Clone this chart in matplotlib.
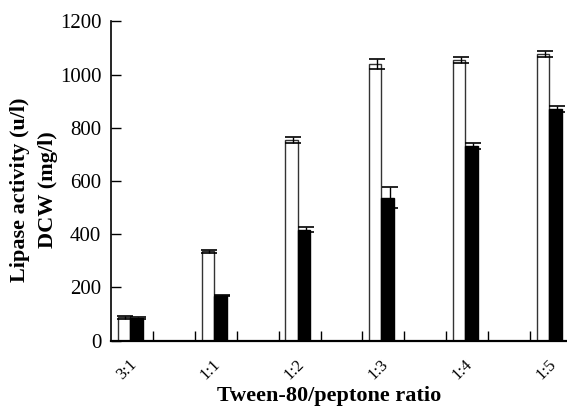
import matplotlib
matplotlib.use("Agg")
import matplotlib.pyplot as plt
import numpy as np
from matplotlib.ticker import FixedLocator

categories = ["3:1", "1:1", "1:2", "1:3", "1:4", "1:5"]
lipase = [88, 336, 755, 1040, 1055, 1078]
lipase_err = [5, 6, 10, 20, 12, 11]
dcw = [84, 169, 418, 538, 733, 870]
dcw_err = [4, 2, 10, 40, 12, 11]

plt.rcParams['font.family'] = ['Liberation Serif', 'DejaVu Serif']

fig = plt.figure(figsize=(5.67, 4.08), dpi=100)
ax = fig.add_axes([111/567, 1-340.7/408, 1-111/567, (340.7-21.5)/408])

pos = np.arange(len(categories)) * 2.0 + 0.45
w = 0.29
ax.bar(pos - w/2, lipase, width=w, color='white', edgecolor='#333333', linewidth=1.0, zorder=2)
ax.bar(pos + w/2 + 0.01, dcw, width=w + 0.02, color='black', edgecolor='black', linewidth=1.0, zorder=2)
ekw = dict(fmt='none', ecolor='black', elinewidth=1.0, capsize=5.5, capthick=1.2, zorder=3)
ax.errorbar(pos - w/2 + 0.04, lipase, yerr=lipase_err, **ekw)
ax.errorbar(pos + w/2 + 0.05, dcw, yerr=dcw_err, **ekw)

ax.set_xlim(0, 10.88)
ax.set_ylim(0, 1200)
ax.set_yticks(np.arange(0, 1201, 200))
ax.tick_params(axis='y', direction='in', length=7, width=1.0, labelsize=15, pad=7)

ax.set_xticks(pos - 0.03)
ax.set_xticklabels(categories, rotation=45, ha='right', rotation_mode='anchor', fontsize=12)
ax.tick_params(axis='x', which='major', length=0, pad=11)
ax.xaxis.set_minor_locator(FixedLocator(np.arange(1, 11)))
ax.tick_params(axis='x', which='minor', direction='in', length=7, width=1.0)

for s in ['top', 'right']:
    ax.spines[s].set_visible(False)
ax.spines['left'].set_linewidth(1.2)
ax.spines['bottom'].set_linewidth(1.6)

fig.text(329/567, 1-396/408, "Tween-80/peptone ratio", ha='center', va='center',
         fontsize=16, fontweight='bold')
fig.text(20/567, 1-190/408, "Lipase activity (u/l)", rotation=90, ha='center', va='center',
         fontsize=16, fontweight='bold')
fig.text(48/567, 1-190/408, "DCW (mg/l)", rotation=90, ha='center', va='center',
         fontsize=16, fontweight='bold')

fig.savefig("out.png", dpi=100)
